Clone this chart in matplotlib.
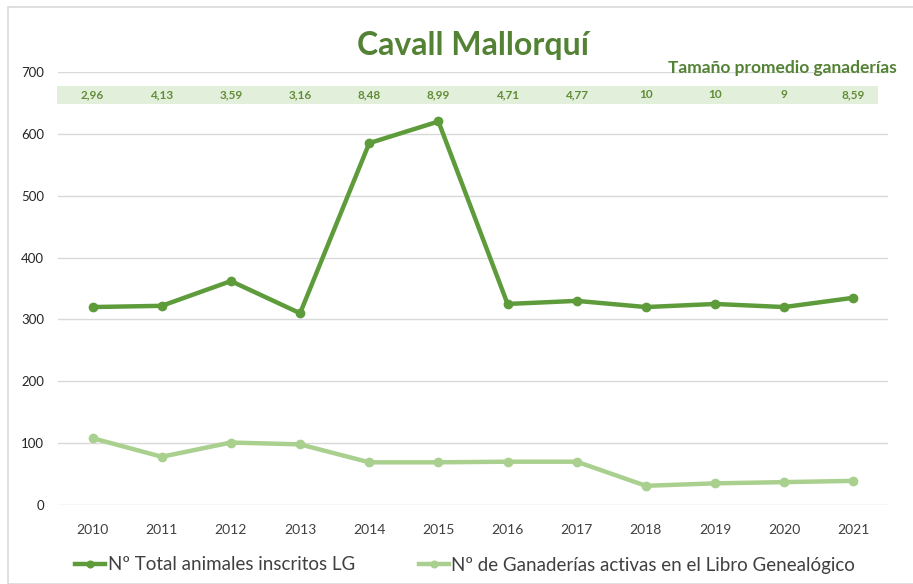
import matplotlib
matplotlib.use("Agg")
import matplotlib.pyplot as plt
from matplotlib.patches import Rectangle

plt.rcParams['font.family'] = ['Lato', 'DejaVu Sans']

years = ['2010', '2011', '2012', '2013', '2014', '2015',
         '2016', '2017', '2018', '2019', '2020', '2021']
total_animales = [320, 322, 362, 310, 585, 620, 325, 330, 320, 325, 320, 335]
ganaderias = [108, 78, 101, 98, 69, 69, 70, 70, 31, 35, 37, 39]
tamano_promedio = ['2,96', '4,13', '3,59', '3,16', '8,48', '8,99',
                   '4,71', '4,77', '10', '10', '9', '8,59']
y_ticks = [0, 100, 200, 300, 400, 500, 600, 700]

dark_green = '#5e9b3b'
light_green = '#a9d08e'
title_green = '#548235'

W, H = 913, 584
fig = plt.figure(figsize=(W / 100, H / 100), dpi=100)

# chart border
fig.patches.append(Rectangle((8 / W, 0), 1.0, 1 - 7 / H, transform=fig.transFigure,
                             fill=False, edgecolor='#d9d9d9', linewidth=1.2))

ax = fig.add_axes([58 / W, 1 - 505 / H, 830 / W, (505 - 72) / H])
x = list(range(len(years)))

ax.plot(x, total_animales, color=dark_green, linewidth=3.2, marker='o',
        markersize=6, label='Nº Total animales inscritos LG', solid_joinstyle='round')
ax.plot(x, ganaderias, color=light_green, linewidth=3.2, marker='o',
        markersize=6, label='Nº de Ganaderías activas en el Libro Genealógico',
        solid_joinstyle='round')

ax.set_xlim(-0.5, len(years) - 0.5)
ax.set_ylim(0, 700)
ax.set_yticks(y_ticks)
ax.set_xticks(x)
ax.set_xticklabels(years)
ax.grid(axis='y', color='#d9d9d9', linewidth=1)
ax.set_axisbelow(True)
for s in ax.spines.values():
    s.set_visible(False)
ax.tick_params(axis='x', length=0, labelsize=10, colors='#404040', pad=14)
ax.tick_params(axis='y', length=0, labelsize=9.5, colors='#262626', pad=10)

# band with average herd size
band_y0 = 1 - (104 - 72) / (505 - 72)
band_h = (104 - 86) / (505 - 72)
ax.add_patch(Rectangle((-1 / 830, band_y0), 821 / 830, band_h, transform=ax.transAxes,
                       facecolor='#e2efda', edgecolor='none', zorder=1, clip_on=False))
for xi, t in zip(x, tamano_promedio):
    ax.text(xi, 1 - (95 - 72) / (505 - 72), t, transform=ax.get_xaxis_transform(),
            ha='center', va='center', fontsize=8.5, fontweight='bold', color='#628c37')

fig.text(473 / W, 1 - 45 / H, 'Cavall Mallorquí', ha='center', va='center',
         fontsize=23, fontweight='bold', color=title_green)
fig.text(897 / W, 1 - 68 / H, 'Tamaño promedio ganaderías', ha='right', va='center',
         fontsize=12.5, fontweight='bold', color=title_green)

fig.legend(loc='center', bbox_to_anchor=(465 / W, 1 - 565 / H), ncol=2, frameon=False,
           fontsize=13.5, handlelength=1.6, handletextpad=0.15, columnspacing=3.4,
           markerscale=0.8, labelcolor='#404040')

fig.savefig('out.png', dpi=100)
